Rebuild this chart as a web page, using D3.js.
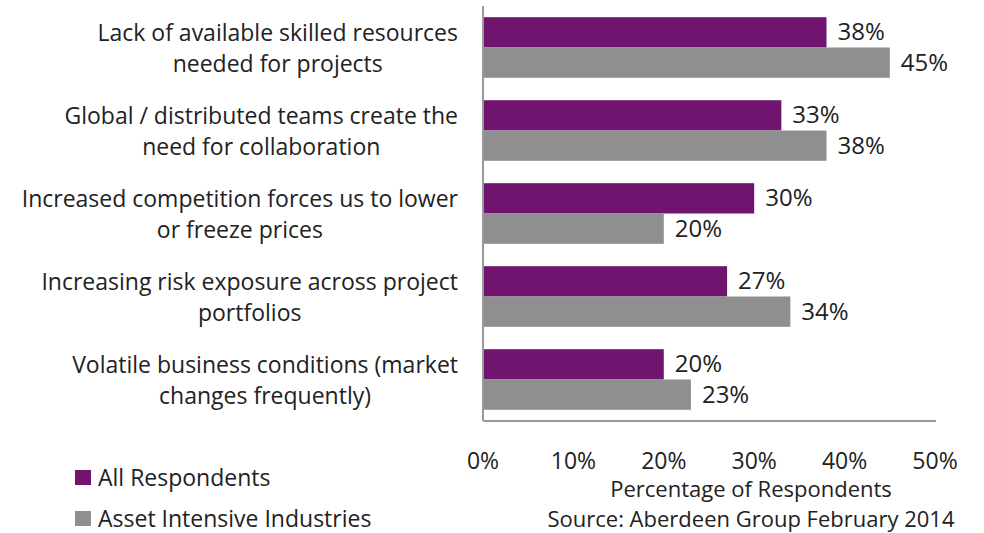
<!DOCTYPE html>
<html>
<head>
<meta charset="utf-8">
<script src="https://cdn.jsdelivr.net/npm/d3@7"></script>
<style>
  body { margin: 0; background: #fff; }
  svg { display: block; font-family: "Open Sans", "Noto Sans", sans-serif; }
</style>
</head>
<body>
<svg id="chart" width="984" height="533"></svg>
<script>
// categories, two lines each
const categories = [
  ["Lack of available skilled resources", "needed for projects"],
  ["Global / distributed teams create the", "need for collaboration"],
  ["Increased competition forces us to lower", "or freeze prices"],
  ["Increasing risk exposure across project", "portfolios"],
  ["Volatile business conditions (market", "changes frequently)"]
];
const seriesNames = ["All Respondents", "Asset Intensive Industries"];
const allRespondents = [38, 33, 30, 27, 20];
const assetIntensive = [45, 38, 20, 34, 23];
const xTicks = [0, 10, 20, 30, 40, 50];

const colors = ["#701470", "#8f8f8f"];
const fs = 23;

const svg = d3.select("#chart");

// plot area
const plotL = 483, plotR = 935, plotT = 6, plotB = 421;

const x = d3.scaleLinear().domain([0, 50]).range([plotL, plotR]);
const y = d3.scaleBand().domain(d3.range(categories.length)).range([plotT, plotB]).paddingInner(0.27).paddingOuter(0.135);
const sub = d3.scaleBand().domain([0, 1]).range([0, y.bandwidth()]);

const values = [allRespondents, assetIntensive];

// bars + value labels
values.forEach((vals, s) => {
  svg.append("g").selectAll("rect")
    .data(vals)
    .join("rect")
    .attr("x", x(0))
    .attr("y", (d, i) => y(i) + sub(s))
    .attr("width", d => x(d) - x(0))
    .attr("height", sub.bandwidth())
    .attr("fill", colors[s]);

  svg.append("g").selectAll("text")
    .data(vals)
    .join("text")
    .attr("x", d => x(d) + 11)
    .attr("y", (d, i) => y(i) + sub(s) + sub.bandwidth() / 2 + 8)
    .attr("font-size", 24)
    .attr("fill", "#222")
    .text(d => d + "%");
});

// axis lines
svg.append("line")
  .attr("x1", plotL).attr("x2", plotL)
  .attr("y1", plotT).attr("y2", plotB)
  .attr("stroke", "#999").attr("stroke-width", 2);
svg.append("line")
  .attr("x1", plotL).attr("x2", plotR + 1)
  .attr("y1", plotB).attr("y2", plotB)
  .attr("stroke", "#999").attr("stroke-width", 2);

// tick labels
svg.append("g").selectAll("text")
  .data(xTicks)
  .join("text")
  .attr("x", d => x(d))
  .attr("y", 469)
  .attr("text-anchor", "middle")
  .attr("font-size", fs)
  .attr("fill", "#222")
  .text(d => d + "%");

// category labels, centred in a block that ends at x=458
categories.forEach((lines, i) => {
  const cy = y(i) + y.bandwidth() / 2;
  const t = svg.append("text")
    .attr("text-anchor", "middle")
    .attr("font-size", fs)
    .attr("fill", "#222");
  t.selectAll("tspan")
    .data(lines)
    .join("tspan")
    .attr("x", 0)
    .attr("y", (d, j) => cy + (j === 0 ? -7 : 24))
    .text(d => d);
  const w = d3.max(t.selectAll("tspan").nodes(), n => n.getComputedTextLength());
  t.selectAll("tspan").attr("x", 458 - w / 2);
});

// axis title and source
svg.append("text")
  .attr("x", 751).attr("y", 497)
  .attr("text-anchor", "middle")
  .attr("font-size", 22).attr("fill", "#222")
  .text("Percentage of Respondents");
svg.append("text")
  .attr("x", 751).attr("y", 527)
  .attr("text-anchor", "middle")
  .attr("font-size", 22).attr("fill", "#222")
  .text("Source: Aberdeen Group February 2014");

// legend
seriesNames.forEach((name, s) => {
  const ly = 470 + s * 41;
  svg.append("rect")
    .attr("x", 75).attr("y", ly)
    .attr("width", 16).attr("height", 15)
    .attr("fill", colors[s]);
  svg.append("text")
    .attr("x", 98).attr("y", ly + 16)
    .attr("font-size", fs).attr("fill", "#222")
    .text(name);
});
</script>
</body>
</html>
